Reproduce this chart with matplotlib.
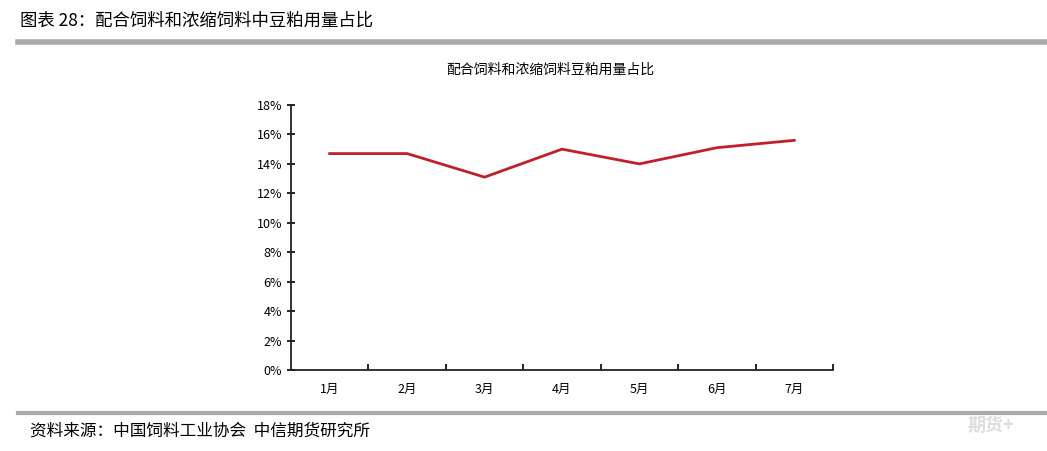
import matplotlib
matplotlib.use("Agg")
import matplotlib.pyplot as plt
from matplotlib.ticker import FixedLocator, PercentFormatter

plt.rcParams['font.family'] = ['Noto Sans CJK SC', 'DejaVu Sans']

months = ['1月', '2月', '3月', '4月', '5月', '6月', '7月']
share = [14.7, 14.7, 13.1, 15.0, 14.0, 15.1, 15.6]
yticks = [0, 2, 4, 6, 8, 10, 12, 14, 16, 18]

W, H = 1047, 451
fig = plt.figure(figsize=(W/100, H/100), dpi=100)
ax = fig.add_axes([291/W, 1-370/H, 542/W, 265/H])
x = list(range(len(months)))
ax.plot(x, share, color='#C0202A', lw=2)
ax.set_xlim(-0.5, len(months)-0.5)
ax.set_ylim(0, 18)
ax.set_yticks(yticks)
ax.yaxis.set_major_formatter(PercentFormatter(decimals=0))
ax.set_xticks(x)
ax.set_xticklabels(months)
ax.xaxis.set_minor_locator(FixedLocator([i-0.5 for i in range(1, len(months)+1)]))
ax.tick_params(axis='x', which='major', length=0, pad=9, labelsize=9)
ax.tick_params(axis='x', which='minor', length=4, direction='in', width=1.2)
ax.tick_params(axis='y', length=6, direction='inout', labelsize=9, width=1.2)
for s in ['top', 'right']:
    ax.spines[s].set_visible(False)
for s in ['left', 'bottom']:
    ax.spines[s].set_color('#222222')
    ax.spines[s].set_linewidth(1.3)

fig.text(550/W, 1-70/H, '配合饲料和浓缩饲料豆粕用量占比', ha='center', va='center', fontsize=10)
fig.text(20/W, 1-21/H, '图表 28：配合饲料和浓缩饲料中豆粕用量占比', ha='left', va='center', fontsize=12.5)
fig.add_artist(plt.Line2D([18/W, 1047/W], [1-42/H, 1-42/H], color='#AAAAAA', lw=4))
fig.add_artist(plt.Line2D([18/W, 1047/W], [1-413/H, 1-413/H], color='#AAAAAA', lw=3))
fig.text(30/W, 1-431/H, '资料来源：中国饲料工业协会  中信期货研究所', ha='left', va='center', fontsize=12)
fig.text(968/W, 1-425/H, '期货+', ha='left', va='center', fontsize=13, color='#DDDDDD', fontweight='bold')
fig.savefig('out.png', dpi=100)
